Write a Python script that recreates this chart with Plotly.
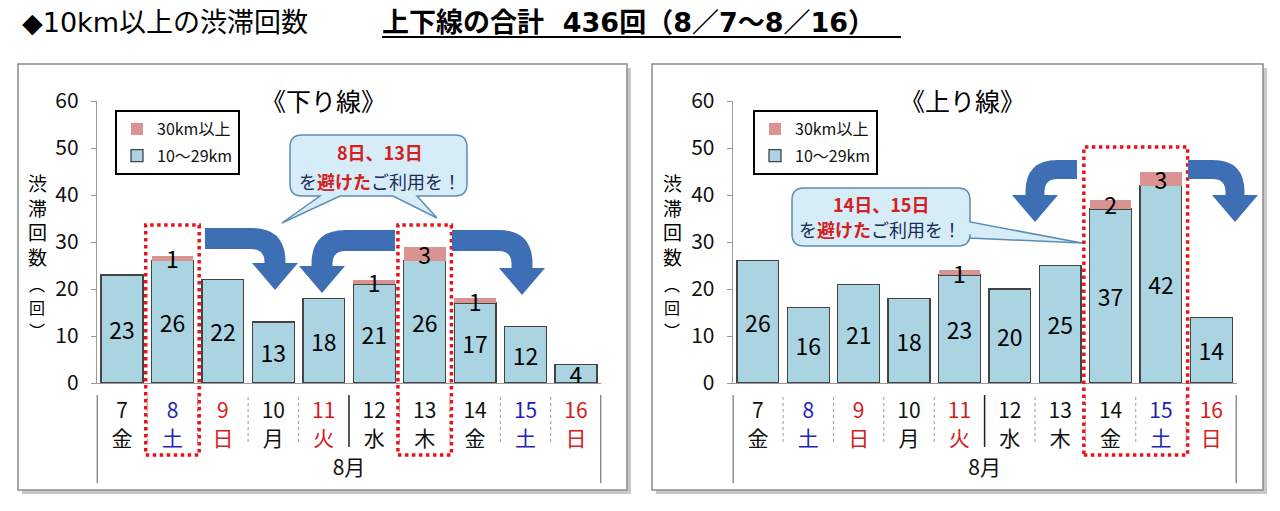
import plotly.graph_objects as go

# canvas in pixels, so decorations can be placed where they sit in the picture
W, H = 1280, 511
OFF = 8  # the page body adds an 8px margin, so everything is drawn 8px up/left

# data: jams of 10 km or more, 7 to 16 August
days = ["7", "8", "9", "10", "11", "12", "13", "14", "15", "16"]
weekdays = ["金", "土", "日", "月", "火", "水", "木", "金", "土", "日"]
day_colors = ["#111111", "#1f1fb4", "#d42020", "#111111", "#d42020",
              "#111111", "#111111", "#111111", "#1f1fb4", "#d42020"]

down_10_29 = [23, 26, 22, 13, 18, 21, 26, 17, 12, 4]
down_30 = [0, 1, 0, 0, 0, 1, 3, 1, 0, 0]
up_10_29 = [26, 16, 21, 18, 23, 20, 25, 37, 42, 14]
up_30 = [0, 0, 0, 0, 1, 0, 0, 2, 3, 0]

BLUE = "#aad4e1"
PINK = "#d99391"
ARROW = "#3e6fb5"
DOT_RED = "#e8141b"
NUM_FONT = "Liberation Sans Narrow, Arial Narrow, Noto Sans CJK JP, sans-serif"
JP_FONT = "Noto Sans CJK JP, sans-serif"
HEAD_FONT = "DejaVu Sans, Noto Sans CJK JP, sans-serif"


def fx(x):
    return (x - OFF) / W


def fy(y):
    return 1 - (y - OFF) / H


def P(x, y):
    return f"{fx(x):.5f},{fy(y):.5f}"


def arrow_path(xs, yt, xt, ytip, thick=21, head_w=46, head_h=27, rad=34):
    d = 1 if xt > xs else -1
    ox = xt + d * thick / 2
    ix = xt - d * thick / 2
    yh = ytip - head_h
    ri = max(rad - thick, 3)
    pts = [f"M {P(xs, yt)}", f"L {P(ox - d * rad, yt)}",
           f"Q {P(ox, yt)} {P(ox, yt + rad)}", f"L {P(ox, yh)}",
           f"L {P(xt + d * head_w / 2, yh)}", f"L {P(xt, ytip)}",
           f"L {P(xt - d * head_w / 2, yh)}", f"L {P(ix, yh)}",
           f"L {P(ix, yt + thick + ri)}",
           f"Q {P(ix, yt + thick)} {P(ix - d * ri, yt + thick)}",
           f"L {P(xs, yt + thick)}", "Z"]
    return " ".join(pts)


def bubble_path(x0, y0, x1, y1, r, bottom_tails=(), right_tails=()):
    s = [f"M {P(x0 + r, y0)}", f"L {P(x1 - r, y0)}", f"Q {P(x1, y0)} {P(x1, y0 + r)}"]
    for a, b, tx, ty in right_tails:
        s += [f"L {P(x1, a)}", f"L {P(tx, ty)}", f"L {P(x1, b)}"]
    s += [f"L {P(x1, y1 - r)}", f"Q {P(x1, y1)} {P(x1 - r, y1)}"]
    for a, b, tx, ty in sorted(bottom_tails, reverse=True):
        s += [f"L {P(b, y1)}", f"L {P(tx, ty)}", f"L {P(a, y1)}"]
    s += [f"L {P(x0 + r, y1)}", f"Q {P(x0, y1)} {P(x0, y1 - r)}",
          f"L {P(x0, y0 + r)}", f"Q {P(x0, y0)} {P(x0 + r, y0)}", "Z"]
    return " ".join(s)


ticktext = [f"<span style='color:{c}'>{d}</span><br><span style='color:{c}'>{w}</span>"
            for d, w, c in zip(days, weekdays, day_colors)]

fig = go.Figure()

panels = [("x", "y", "legend", down_10_29, down_30, "L"),
          ("x2", "y2", "legend2", up_10_29, up_30, "R")]
for xa, ya, lg, base, top, tag in panels:
    fig.add_trace(go.Bar(
        x=days, y=base, name="10～29km", xaxis=xa, yaxis=ya, legend=lg,
        legendgroup=tag + "10", legendrank=2,
        marker=dict(color=BLUE, line=dict(color="#444", width=1.3)),
        text=[str(v) for v in base], textposition="inside", insidetextanchor="middle",
        constraintext="none", textangle=0,
        textfont=dict(family=NUM_FONT, size=23, color="black")))
    fig.add_trace(go.Bar(
        x=days, y=top, name="30km以上", xaxis=xa, yaxis=ya, legend=lg,
        legendgroup=tag + "30", legendrank=1,
        marker=dict(color=PINK, line=dict(width=0)),
        text=[str(v) if v else "" for v in top], textposition="inside",
        insidetextanchor="middle", constraintext="none", textangle=0,
        textfont=dict(family=NUM_FONT, size=23, color="black")))

ydom = [fy(383), fy(101)]
xaxis_common = dict(type="category", tickmode="array", tickvals=days, ticktext=ticktext,
                    tickfont=dict(family=NUM_FONT, size=21, color="#111"), ticks="",
                    ticklabelstandoff=9, showline=True, linecolor="#999", linewidth=1,
                    showgrid=False, range=[-0.5, 9.5], fixedrange=True, automargin=False,
                    title=dict(text="8月", font=dict(family=NUM_FONT, size=21, color="#111"),
                               standoff=0))
yaxis_common = dict(range=[0, 60], tickvals=[0, 10, 20, 30, 40, 50, 60],
                    tickfont=dict(family=NUM_FONT, size=21, color="#111"),
                    ticks="outside", ticklen=5, tickcolor="#999", showline=True,
                    linecolor="#999", linewidth=1, showgrid=False, zeroline=False,
                    ticklabelstandoff=8, domain=ydom, automargin=False, fixedrange=True)

legend_common = dict(xanchor="left", yanchor="top", bordercolor="black", borderwidth=2,
                     bgcolor="white", font=dict(family=NUM_FONT, size=16, color="#111"),
                     traceorder="grouped", tracegroupgap=3, itemwidth=30)

fig.update_layout(
    width=W, height=H, margin=dict(l=0, r=0, t=0, b=0, autoexpand=False),
    paper_bgcolor="white", plot_bgcolor="rgba(0,0,0,0)",
    font=dict(family=JP_FONT, color="#111"),
    barmode="stack", bargap=0.17,
    xaxis=dict(xaxis_common, domain=[fx(96.8), fx(601.2)], anchor="y"),
    yaxis=dict(yaxis_common, anchor="x"),
    xaxis2=dict(xaxis_common, domain=[fx(732.7), fx(1236.5)], anchor="y2"),
    yaxis2=dict(yaxis_common, anchor="x2"),
    legend=dict(legend_common, x=fx(115), y=fy(110)),
    legend2=dict(legend_common, x=fx(753), y=fy(110)),
    showlegend=True,
)

shapes = []
# panel frames with a soft shadow
for x0, x1 in [(18, 627), (652, 1263)]:
    shapes.append(dict(type="rect", xref="paper", yref="paper", layer="below",
                       x0=fx(x0 + 4), x1=fx(x1 + 4), y0=fy(494), y1=fy(68),
                       fillcolor="#c8c8c8", line=dict(width=0)))
    shapes.append(dict(type="rect", xref="paper", yref="paper", layer="below",
                       x0=fx(x0), x1=fx(x1), y0=fy(490), y1=fy(64),
                       fillcolor="white", line=dict(color="#8a8a8a", width=1.5)))

# separators between the day labels
for xr in ["x", "x2"]:
    for i in range(11):
        pos = i - 0.5
        if i in (0, 10):
            shapes.append(dict(type="line", xref=xr, yref="paper", x0=pos, x1=pos,
                               y0=fy(395), y1=fy(483), line=dict(color="#222", width=1.5)))
        elif i == 5:
            shapes.append(dict(type="line", xref=xr, yref="paper", x0=pos, x1=pos,
                               y0=fy(395), y1=fy(447), line=dict(color="#222", width=1.5)))
        else:
            shapes.append(dict(type="line", xref=xr, yref="paper", x0=pos, x1=pos,
                               y0=fy(397), y1=fy(445),
                               line=dict(color="#999", width=1, dash="dot")))

# red dotted highlight frames
for xr, a, b, top in [("x", 1, 1, 225), ("x", 6, 6, 225), ("x2", 7, 8, 147)]:
    shapes.append(dict(type="rect", xref=xr, yref="paper", x0=a - 0.53, x1=b + 0.53,
                       y0=fy(455), y1=fy(top),
                       line=dict(color=DOT_RED, width=3.5, dash="dot")))

# blue detour arrows
for xs, yt, xt, ytip, th, rad in [(205, 228, 275, 290, 21, 34), (395, 230, 322, 293, 21, 34),
                                  (452, 230, 522, 295, 21, 34), (1077, 160, 1035, 222, 19, 32),
                                  (1188, 160, 1235, 222, 19, 32)]:
    shapes.append(dict(type="path", xref="paper", yref="paper",
                       path=arrow_path(xs, yt, xt, ytip, thick=th, rad=rad),
                       fillcolor=ARROW, line=dict(width=0)))

# callout bubbles
shapes.append(dict(type="path", xref="paper", yref="paper",
                   path=bubble_path(290, 135, 467, 196, 12,
                                    bottom_tails=[(320, 340, 282, 223), (393, 417, 437, 218)]),
                   fillcolor="#d6ecf6", line=dict(color="#5b8db8", width=1.5)))
shapes.append(dict(type="path", xref="paper", yref="paper",
                   path=bubble_path(792, 188, 970, 246, 12,
                                    right_tails=[(222, 238, 1082, 243)]),
                   fillcolor="#d6ecf6", line=dict(color="#5b8db8", width=1.5)))

# underline of the headline total
shapes.append(dict(type="line", xref="paper", yref="paper", x0=fx(382), x1=fx(901),
                   y0=fy(37), y1=fy(37), line=dict(color="black", width=2)))
fig.update_layout(shapes=shapes)


def note(text, x, y, size, color="black", family=JP_FONT, xanchor="center"):
    fig.add_annotation(text=text, x=fx(x), y=fy(y), xref="paper", yref="paper",
                       showarrow=False, xanchor=xanchor, yanchor="middle",
                       font=dict(family=family, size=size, color=color))


note("◆10km以上の渋滞回数", 20, 22, 27, family=HEAD_FONT, xanchor="left")
note("<b>上下線の合計  436回（8／7～8／16）</b>", 380, 22, 27, family=HEAD_FONT, xanchor="left")
note("《下り線》", 323, 100, 25)
note("《上り線》", 962, 100, 25)
for xc in (37, 672):
    note("渋<br>滞<br>回<br>数", xc, 219, 19)
    for ch, yc in [("︵", 284), ("回", 307), ("︶", 330)]:
        note(ch, xc, yc, 16)

note("<b>8日、13日</b>", 380, 152, 18, color="#d42020")
note("を<span style='color:#d42020'><b>避けた</b></span>ご利用を！", 380, 181, 18, color="#1b2c5c")
note("<b>14日、15日</b>", 881, 204, 18, color="#d42020")
note("を<span style='color:#d42020'><b>避けた</b></span>ご利用を！", 880, 229, 18, color="#1b2c5c")

fig.write_html("out.html")
